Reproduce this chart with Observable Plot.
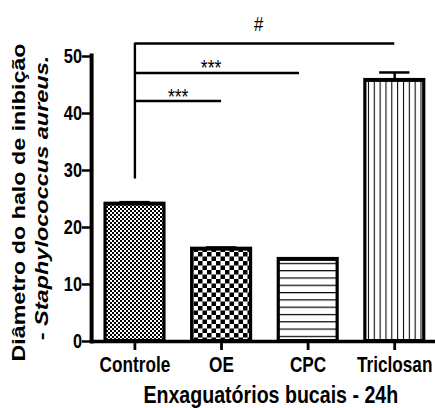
<!DOCTYPE html>
<html>
<head>
<meta charset="utf-8">
<script src="https://cdn.jsdelivr.net/npm/d3@7"></script>
<script src="https://cdn.jsdelivr.net/npm/@observablehq/plot@0.6"></script>
<style>
  html, body { margin: 0; padding: 0; background: white; }
</style>
</head>
<body>
<div id="chart"></div>
<script>
// ---- data ----
const categories = ["Controle", "OE", "CPC", "Triclosan"];
const values = [24.1, 16.2, 14.4, 45.8];
const errors = [0.35, 0.3, 0, 1.4];
const yTicks = [0, 10, 20, 30, 40, 50];
const sigLevels = [52.3, 47.1, 42.2];
const sigEnds = [3, 1.9, 1];
const sigLabels = ["#", "***", "***"];
const sigLabelX = [1.43, 0.88, 0.5];
const sigLabelY = [55.7, 48.0, 42.9];
const controlStemBottom = 28.5;
const xTitle = "Enxaguatórios bucais - 24h";
const yTitle1 = "Diâmetro do halo de inibição";
const yTitle2 = ["- ", "Staphylococcus aureus."];

// ---- layout (drawn in a wider virtual space, then squeezed horizontally like the reference) ----
const W = 435, H = 408, K = 1.25, VW = W * K;
const patternIds = ["pControle", "pOE", "pCPC", "pTriclosan"];

const data = categories.map((c, i) => ({category: c, i, value: values[i], sem: errors[i]}));
const sig = sigLevels.map((y, k) => ({y, x2: sigEnds[k], label: sigLabels[k], lx: sigLabelX[k], ly: sigLabelY[k]}));
const half = 0.34, cap = 0.175;

const svg = Plot.plot({
  width: VW, height: H,
  marginLeft: 114, marginRight: 0, marginTop: 56, marginBottom: 67,
  x: {domain: [-0.5, 3.47], axis: null},
  y: {domain: [0, 50], axis: null},
  color: {domain: categories, range: patternIds.map(id => `url(#${id})`)},
  style: {fontFamily: "'Liberation Sans', Arial, sans-serif", fontSize: "20px", fontWeight: "bold", color: "black", background: "white"},
  marks: [
    Plot.rectY(data, {x1: d => d.i - half, x2: d => d.i + half, y: "value", fill: "category", stroke: "black", strokeWidth: 4}),
    Plot.ruleX(data.filter(d => d.sem > 0), {x: "i", y1: "value", y2: d => d.value + d.sem, stroke: "black", strokeWidth: 3}),
    Plot.ruleY(data.filter(d => d.sem > 0), {y: d => d.value + d.sem, x1: d => d.i - cap, x2: d => d.i + cap, stroke: "black", strokeWidth: 2.5}),
    Plot.ruleY([0], {stroke: "black", strokeWidth: 3.5}),
    Plot.ruleX([-0.5], {stroke: "black", strokeWidth: 5, strokeLinecap: "square"}),
    Plot.axisY({ticks: yTicks, tickSize: 11.5, tickPadding: 0.5, strokeWidth: 2.5, label: null, fontSize: 20.5, fontWeight: "bold"}),
    Plot.axisX({ticks: categories.map((_, i) => i), tickFormat: i => categories[i], tickSize: 9, tickPadding: 6, strokeWidth: 3.5, label: null, fontSize: 21.5, fontWeight: "bold"}),
    Plot.ruleY(sig, {y: "y", x1: 0, x2: "x2", stroke: "black", strokeWidth: 2.5}),
    Plot.ruleX([0], {y1: controlStemBottom, y2: sigLevels[0], stroke: "black", strokeWidth: 3}),
    Plot.text(sig, {x: "lx", y: "ly", text: "label", fontSize: d => d.label === "#" ? 21 : 22, fontWeight: "normal", fill: "black"})
  ]
});

// squeeze horizontally
svg.setAttribute("width", W);
svg.setAttribute("height", H);
svg.setAttribute("preserveAspectRatio", "none");
svg.style.width = W + "px";
svg.style.height = H + "px";
svg.style.maxWidth = "none";

// patterns
const s = d3.select(svg);
const defs = s.insert("defs", ":first-child");
function checker(id, w, h) {
  const p = defs.append("pattern").attr("id", id).attr("patternUnits", "userSpaceOnUse")
    .attr("width", 2 * w).attr("height", 2 * h);
  p.append("rect").attr("width", 2 * w).attr("height", 2 * h).attr("fill", "white");
  p.append("rect").attr("width", w).attr("height", h).attr("fill", "black");
  p.append("rect").attr("x", w).attr("y", h).attr("width", w).attr("height", h).attr("fill", "black");
}
checker(patternIds[0], 2.5, 2);
checker(patternIds[1], 5.625, 4.5);
{
  const p = defs.append("pattern").attr("id", patternIds[2]).attr("patternUnits", "userSpaceOnUse")
    .attr("width", 10).attr("height", 7.3);
  p.append("rect").attr("width", 10).attr("height", 7.3).attr("fill", "white");
  p.append("rect").attr("width", 10).attr("height", 1.2).attr("fill", "black");
}
{
  const p = defs.append("pattern").attr("id", patternIds[3]).attr("patternUnits", "userSpaceOnUse")
    .attr("width", 7.3).attr("height", 10);
  p.append("rect").attr("width", 7.3).attr("height", 10).attr("fill", "white");
  p.append("rect").attr("width", 1.3).attr("height", 10).attr("fill", "black");
}

// axis titles
s.append("text").attr("x", 338.5).attr("y", 403).attr("text-anchor", "middle")
  .attr("font-size", 24.5).attr("font-weight", "bold").attr("fill", "black").text(xTitle);
s.append("text").attr("transform", "translate(31,202.5) rotate(-90)").attr("text-anchor", "middle")
  .attr("font-size", 23.3).attr("font-weight", "bold").attr("fill", "black").text(yTitle1);
const t2 = s.append("text").attr("transform", "translate(60.4,198) rotate(-90)").attr("text-anchor", "middle")
  .attr("font-size", 23.5).attr("font-weight", "bold").attr("fill", "black");
t2.append("tspan").text(yTitle2[0]);
t2.append("tspan").attr("font-style", "italic").text(yTitle2[1]);

document.getElementById("chart").appendChild(svg);
</script>
</body>
</html>
